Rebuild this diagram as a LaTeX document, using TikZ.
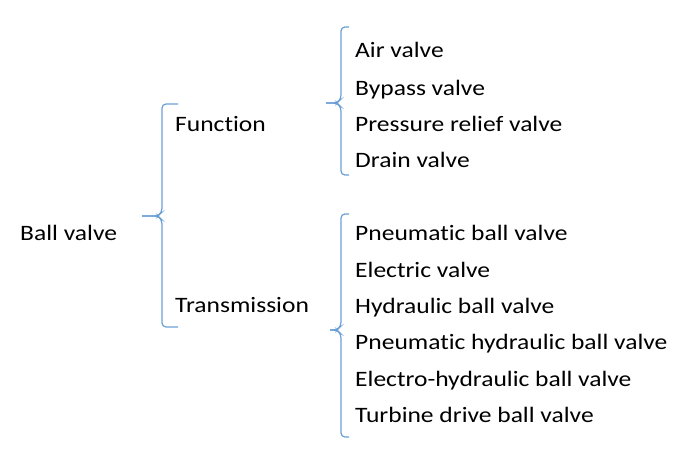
\documentclass[tikz,border=0pt]{standalone}
\usepackage{fontspec}
\setmainfont{Carlito}[FakeStretch=1.16,Ligatures=NoCommon]
\definecolor{bracec}{HTML}{6A9FD6}
\begin{document}
\begin{tikzpicture}[x=1pt,y=-1pt,
  lbl/.style={anchor=west,inner sep=0pt,font=\fontsize{22}{24}\selectfont,text height=15pt,text depth=0pt},
  brace/.style={draw=bracec,line width=1.2pt,rounded corners=4pt}]
\useasboundingbox (0,0) rectangle (699,461);
\node[lbl] (ball) at (20,233) {Ball valve};
\node[lbl] (func) at (175,124) {Function};
\node[lbl] (trans) at (175,305) {Transmission};
\node[lbl] (a1) at (355,50) {Air valve};
\node[lbl] (a2) at (355,88) {Bypass valve};
\node[lbl] (a3) at (355,124) {Pressure relief valve};
\node[lbl] (a4) at (355,160) {Drain valve};
\node[lbl] (b1) at (355,233) {Pneumatic ball valve};
\node[lbl] (b2) at (355,270) {Electric valve};
\node[lbl] (b3) at (355,306) {Hydraulic ball valve};
\node[lbl] (b4) at (355,342) {Pneumatic hydraulic ball valve};
\node[lbl] (b5) at (355,379) {Electro-hydraulic ball valve};
\node[lbl] (b6) at (355,415) {Turbine drive ball valve};
% brace 1
\coordinate (t1) at (142,216);
\draw[brace] (178,104) -- (162,104) -- (162,212) -- (158,216) -- (t1);
\draw[brace] (t1) -- (158,216) -- (162,220) -- (162,327) -- (178,327);
% brace 2
\coordinate (t2) at (326,103);
\draw[brace] (349,27) -- (341,27) -- (341,99) -- (337,103) -- (t2);
\draw[brace] (t2) -- (337,103) -- (341,107) -- (341,175) -- (349,175);
% brace 3
\coordinate (t3) at (330,330);
\draw[brace] (349,214) -- (341,214) -- (341,326) -- (337,330) -- (t3);
\draw[brace] (t3) -- (337,330) -- (341,334) -- (341,437) -- (349,437);
\end{tikzpicture}
\end{document}
